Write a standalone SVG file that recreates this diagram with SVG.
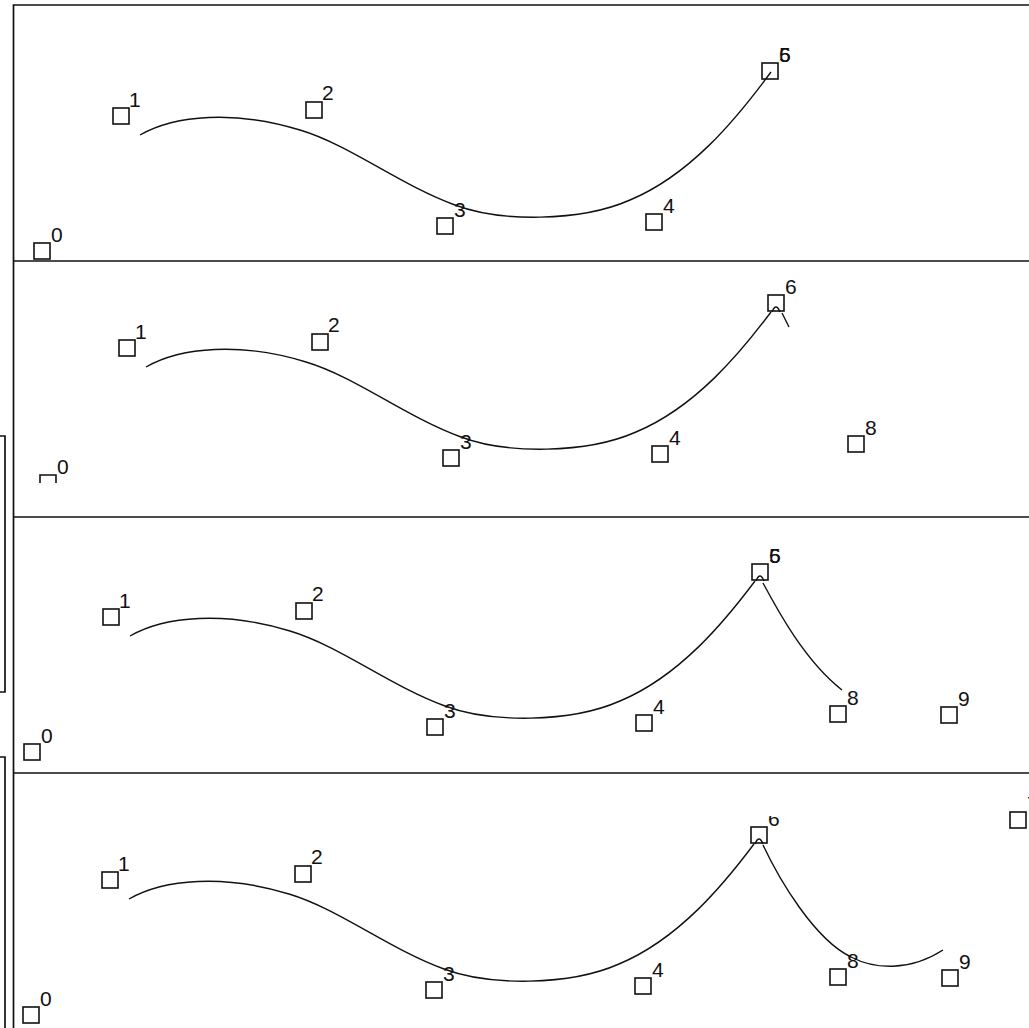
<svg xmlns="http://www.w3.org/2000/svg" width="1029" height="1028" viewBox="0 0 1029 1028">
<defs>
<style>
.frame{fill:none;stroke:#111;stroke-width:1.7}
.nd rect,.nd path{fill:none;stroke:#111;stroke-width:1.6}
.nd text{font-family:"Liberation Sans",Arial,sans-serif;font-size:21px;fill:#111}
.cv{fill:none;stroke:#111;stroke-width:1.4}
</style>
<path id="base" d="M140,135 C175,115 235,110 300,130 C350,145 400,185 455,205 C500,222 580,222 630,200 C690,175 735,120 765,80"/>
<clipPath id="c6"><rect x="700" y="52" width="120" height="40"/></clipPath>
</defs>
<rect width="1029" height="1028" fill="#fff"/>
<g id="frames" class="frame">
<path d="M13.5,1028 V5 H1029"/>
<path d="M13.5,261 H1029 M13.5,517 H1029 M13.5,773 H1029"/>
<path d="M0,436 H5 V692 H0"/>
<path d="M0,757 H5 V1028"/>
</g>
<g id="panel1">
<g id="p1-n0" class="nd"><rect x="34" y="243" width="16" height="16"/><text x="51" y="242">0</text></g>
<g id="p1-n1" class="nd"><rect x="113" y="108" width="16" height="16"/><text x="129" y="107">1</text></g>
<g id="p1-n2" class="nd"><rect x="306" y="102" width="16" height="16"/><text x="322" y="100">2</text></g>
<g id="p1-n3" class="nd"><rect x="437" y="218" width="16" height="16"/><text x="454" y="217">3</text></g>
<g id="p1-n4" class="nd"><rect x="646" y="214" width="16" height="16"/><text x="663" y="213">4</text></g>
<g id="p1-n5" class="nd"><rect x="762" y="63" width="16" height="16"/><text x="779" y="62">5</text><text x="779" y="62">6</text></g>
<g id="p1-connectors" class="cv"><use href="#base"/><path d="M765,80 L771,72"/></g>
</g>
<g id="panel2" transform="translate(6,232)">
<g id="p2-n0" class="nd"><path d="M34,251 V243 H50 V251"/><text x="51" y="242">0</text></g>
<g id="p2-n1" class="nd"><rect x="113" y="108" width="16" height="16"/><text x="129" y="107">1</text></g>
<g id="p2-n2" class="nd"><rect x="306" y="102" width="16" height="16"/><text x="322" y="100">2</text></g>
<g id="p2-n3" class="nd"><rect x="437" y="218" width="16" height="16"/><text x="454" y="217">3</text></g>
<g id="p2-n4" class="nd"><rect x="646" y="214" width="16" height="16"/><text x="663" y="213">4</text></g>
<g id="p2-n5" class="nd"><rect x="762" y="63" width="16" height="16"/><text x="779" y="62">6</text></g>
<g id="p2-n8" class="nd"><rect x="842" y="204" width="16" height="16"/><text x="859" y="203">8</text></g>
<g id="p2-connectors" class="cv"><use href="#base"/><path d="M766,80 Q770,70 774,80"/><path d="M776,81 L783,95"/></g>
</g>
<g id="panel3" transform="translate(-10,501)">
<g id="p3-n0" class="nd"><rect x="34" y="243" width="16" height="16"/><text x="51" y="242">0</text></g>
<g id="p3-n1" class="nd"><rect x="113" y="108" width="16" height="16"/><text x="129" y="107">1</text></g>
<g id="p3-n2" class="nd"><rect x="306" y="102" width="16" height="16"/><text x="322" y="100">2</text></g>
<g id="p3-n3" class="nd"><rect x="437" y="218" width="16" height="16"/><text x="454" y="217">3</text></g>
<g id="p3-n4" class="nd"><rect x="646" y="214" width="16" height="16"/><text x="663" y="213">4</text></g>
<g id="p3-n5" class="nd"><rect x="762" y="63" width="16" height="16"/><text x="779" y="62">5</text><text x="779" y="62">6</text></g>
<g id="p3-n8" class="nd"><rect x="840" y="205" width="16" height="16"/><text x="857" y="204">8</text></g>
<g id="p3-n9" class="nd"><rect x="951" y="206" width="16" height="16"/><text x="968" y="205">9</text></g>
<g id="p3-connectors" class="cv"><use href="#base"/><path d="M766,80 Q770,70 774,80"/><path d="M773,82 C788,110 815,160 852,189"/></g>
</g>
<g id="panel4" transform="translate(-11,764)">
<g id="p4-n0" class="nd"><rect x="34" y="243" width="16" height="16"/><text x="51" y="242">0</text></g>
<g id="p4-n1" class="nd"><rect x="113" y="108" width="16" height="16"/><text x="129" y="107">1</text></g>
<g id="p4-n2" class="nd"><rect x="306" y="102" width="16" height="16"/><text x="322" y="100">2</text></g>
<g id="p4-n3" class="nd"><rect x="437" y="218" width="16" height="16"/><text x="454" y="217">3</text></g>
<g id="p4-n4" class="nd"><rect x="646" y="214" width="16" height="16"/><text x="663" y="213">4</text></g>
<g id="p4-n5" class="nd"><rect x="762" y="63" width="16" height="16"/><g clip-path="url(#c6)"><text x="779" y="62">6</text></g></g>
<g id="p4-n8" class="nd"><rect x="841" y="205" width="16" height="16"/><text x="858" y="204">8</text></g>
<g id="p4-n9" class="nd"><rect x="953" y="206" width="16" height="16"/><text x="970" y="205">9</text></g>
<g id="p4-n7" class="nd"><rect x="1021" y="48" width="16" height="16"/><text x="1038" y="47">7</text></g>
<g id="p4-connectors" class="cv"><use href="#base"/><path d="M766,80 Q770,70 774,80"/><path d="M774,81 C790,115 825,175 862,193 C885,205 920,208 954,186"/></g>
</g>
</svg>
